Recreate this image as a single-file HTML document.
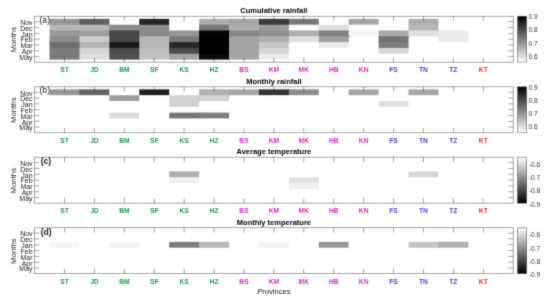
<!DOCTYPE html><html><head><meta charset="utf-8"><style>html,body{margin:0;padding:0;background:#fff;width:550px;height:300px;overflow:hidden}svg{display:block}text{font-family:"Liberation Sans",sans-serif}</style></head><body>
<svg width="550" height="300" viewBox="0 0 550 300">
<defs><linearGradient id="gd" x1="0" y1="0" x2="0" y2="1"><stop offset="0" stop-color="#000"/><stop offset="1" stop-color="#fff"/></linearGradient><linearGradient id="gl" x1="0" y1="0" x2="0" y2="1"><stop offset="0" stop-color="#fff"/><stop offset="1" stop-color="#000"/></linearGradient><filter id="soft" x="0" y="0" width="550" height="300" filterUnits="userSpaceOnUse" color-interpolation-filters="sRGB"><feConvolveMatrix order="3" kernelMatrix="0.0367 0.1915 0.0367 0.1915 1.0000 0.1915 0.0367 0.1915 0.0367" divisor="1.9127" edgeMode="duplicate" preserveAlpha="true"/></filter></defs><g filter="url(#soft)">
<rect width="550" height="300" fill="#fff"/>
<rect x="49.56" y="18.85" width="30.91" height="6.82" fill="rgb(150,150,150)"/>
<rect x="79.47" y="18.85" width="29.91" height="6.82" fill="rgb(95,95,95)"/>
<rect x="139.29" y="18.85" width="29.91" height="6.82" fill="rgb(35,35,35)"/>
<rect x="199.12" y="18.85" width="30.91" height="6.82" fill="rgb(175,175,175)"/>
<rect x="229.03" y="18.85" width="30.91" height="6.82" fill="rgb(165,165,165)"/>
<rect x="258.94" y="18.85" width="30.91" height="6.82" fill="rgb(60,60,60)"/>
<rect x="288.86" y="18.85" width="29.91" height="6.82" fill="rgb(120,120,120)"/>
<rect x="348.68" y="18.85" width="29.91" height="5.82" fill="rgb(165,165,165)"/>
<rect x="408.51" y="18.85" width="29.91" height="6.82" fill="rgb(175,175,175)"/>
<rect x="49.56" y="24.67" width="30.91" height="6.82" fill="rgb(182,182,182)"/>
<rect x="79.47" y="24.67" width="30.91" height="6.82" fill="rgb(183,183,183)"/>
<rect x="109.38" y="24.67" width="30.91" height="6.82" fill="rgb(140,140,140)"/>
<rect x="139.29" y="24.67" width="29.91" height="6.82" fill="rgb(140,140,140)"/>
<rect x="199.12" y="24.67" width="30.91" height="6.82" fill="rgb(120,120,120)"/>
<rect x="229.03" y="24.67" width="30.91" height="6.82" fill="rgb(175,175,175)"/>
<rect x="258.94" y="24.67" width="30.91" height="6.82" fill="rgb(155,155,155)"/>
<rect x="288.86" y="24.67" width="30.91" height="6.82" fill="rgb(250,250,250)"/>
<rect x="318.77" y="24.67" width="29.91" height="6.82" fill="rgb(225,225,225)"/>
<rect x="408.51" y="24.67" width="29.91" height="6.82" fill="rgb(185,185,185)"/>
<rect x="49.56" y="30.49" width="30.91" height="6.82" fill="rgb(152,152,152)"/>
<rect x="79.47" y="30.49" width="30.91" height="6.82" fill="rgb(158,158,158)"/>
<rect x="109.38" y="30.49" width="30.91" height="6.82" fill="rgb(70,70,70)"/>
<rect x="139.29" y="30.49" width="30.91" height="6.82" fill="rgb(140,140,140)"/>
<rect x="169.21" y="30.49" width="30.91" height="6.82" fill="rgb(150,150,150)"/>
<rect x="199.12" y="30.49" width="30.91" height="6.82" fill="rgb(5,5,5)"/>
<rect x="229.03" y="30.49" width="30.91" height="6.82" fill="rgb(135,135,135)"/>
<rect x="258.94" y="30.49" width="30.91" height="6.82" fill="rgb(145,145,145)"/>
<rect x="288.86" y="30.49" width="30.91" height="6.82" fill="rgb(175,175,175)"/>
<rect x="318.77" y="30.49" width="30.91" height="6.82" fill="rgb(130,130,130)"/>
<rect x="348.68" y="30.49" width="30.91" height="5.82" fill="rgb(245,245,245)"/>
<rect x="378.59" y="30.49" width="30.91" height="6.82" fill="rgb(170,170,170)"/>
<rect x="408.51" y="30.49" width="30.91" height="5.82" fill="rgb(225,225,225)"/>
<rect x="438.42" y="30.49" width="29.91" height="6.82" fill="rgb(235,235,235)"/>
<rect x="49.56" y="36.31" width="30.91" height="6.82" fill="rgb(140,140,140)"/>
<rect x="79.47" y="36.31" width="30.91" height="6.82" fill="rgb(203,203,203)"/>
<rect x="109.38" y="36.31" width="30.91" height="6.82" fill="rgb(70,70,70)"/>
<rect x="139.29" y="36.31" width="30.91" height="6.82" fill="rgb(185,185,185)"/>
<rect x="169.21" y="36.31" width="30.91" height="6.82" fill="rgb(120,120,120)"/>
<rect x="199.12" y="36.31" width="30.91" height="6.82" fill="rgb(0,0,0)"/>
<rect x="229.03" y="36.31" width="30.91" height="6.82" fill="rgb(165,165,165)"/>
<rect x="258.94" y="36.31" width="30.91" height="6.82" fill="rgb(175,175,175)"/>
<rect x="288.86" y="36.31" width="30.91" height="5.82" fill="rgb(225,225,225)"/>
<rect x="318.77" y="36.31" width="29.91" height="6.82" fill="rgb(160,160,160)"/>
<rect x="378.59" y="36.31" width="29.91" height="6.82" fill="rgb(115,115,115)"/>
<rect x="438.42" y="36.31" width="29.91" height="5.82" fill="rgb(235,235,235)"/>
<rect x="49.56" y="42.13" width="30.91" height="6.82" fill="rgb(110,110,110)"/>
<rect x="79.47" y="42.13" width="30.91" height="6.82" fill="rgb(180,180,180)"/>
<rect x="109.38" y="42.13" width="30.91" height="6.82" fill="rgb(25,25,25)"/>
<rect x="139.29" y="42.13" width="30.91" height="6.82" fill="rgb(185,185,185)"/>
<rect x="169.21" y="42.13" width="30.91" height="6.82" fill="rgb(40,40,40)"/>
<rect x="199.12" y="42.13" width="30.91" height="6.82" fill="rgb(0,0,0)"/>
<rect x="229.03" y="42.13" width="30.91" height="6.82" fill="rgb(165,165,165)"/>
<rect x="258.94" y="42.13" width="29.91" height="6.82" fill="rgb(200,200,200)"/>
<rect x="318.77" y="42.13" width="29.91" height="5.82" fill="rgb(235,235,235)"/>
<rect x="378.59" y="42.13" width="29.91" height="6.82" fill="rgb(125,125,125)"/>
<rect x="49.56" y="47.95" width="30.91" height="6.82" fill="rgb(125,125,125)"/>
<rect x="79.47" y="47.95" width="30.91" height="6.82" fill="rgb(213,213,213)"/>
<rect x="109.38" y="47.95" width="30.91" height="6.82" fill="rgb(75,75,75)"/>
<rect x="139.29" y="47.95" width="30.91" height="6.82" fill="rgb(190,190,190)"/>
<rect x="169.21" y="47.95" width="30.91" height="6.82" fill="rgb(75,75,75)"/>
<rect x="199.12" y="47.95" width="30.91" height="6.82" fill="rgb(0,0,0)"/>
<rect x="229.03" y="47.95" width="30.91" height="6.82" fill="rgb(165,165,165)"/>
<rect x="258.94" y="47.95" width="29.91" height="6.82" fill="rgb(215,215,215)"/>
<rect x="378.59" y="47.95" width="29.91" height="5.82" fill="rgb(215,215,215)"/>
<rect x="49.56" y="53.77" width="30.91" height="5.82" fill="rgb(123,123,123)"/>
<rect x="79.47" y="53.77" width="30.91" height="5.82" fill="rgb(222,222,222)"/>
<rect x="109.38" y="53.77" width="30.91" height="5.82" fill="rgb(80,80,80)"/>
<rect x="139.29" y="53.77" width="30.91" height="5.82" fill="rgb(195,195,195)"/>
<rect x="169.21" y="53.77" width="30.91" height="5.82" fill="rgb(165,165,165)"/>
<rect x="199.12" y="53.77" width="30.91" height="5.82" fill="rgb(10,10,10)"/>
<rect x="229.03" y="53.77" width="30.91" height="5.82" fill="rgb(165,165,165)"/>
<rect x="258.94" y="53.77" width="29.91" height="5.82" fill="rgb(235,235,235)"/>
<rect x="34.60" y="16.30" width="478.60" height="45.90" fill="none" stroke="#262626" stroke-opacity="0.5" stroke-width="0.8"/>
<line x1="64.51" y1="16.30" x2="64.51" y2="21.10" stroke="#262626" stroke-opacity="0.5" stroke-width="0.8"/>
<line x1="64.51" y1="62.20" x2="64.51" y2="57.40" stroke="#262626" stroke-opacity="0.5" stroke-width="0.8"/>
<line x1="94.43" y1="16.30" x2="94.43" y2="21.10" stroke="#262626" stroke-opacity="0.5" stroke-width="0.8"/>
<line x1="94.43" y1="62.20" x2="94.43" y2="57.40" stroke="#262626" stroke-opacity="0.5" stroke-width="0.8"/>
<line x1="124.34" y1="16.30" x2="124.34" y2="21.10" stroke="#262626" stroke-opacity="0.5" stroke-width="0.8"/>
<line x1="124.34" y1="62.20" x2="124.34" y2="57.40" stroke="#262626" stroke-opacity="0.5" stroke-width="0.8"/>
<line x1="154.25" y1="16.30" x2="154.25" y2="21.10" stroke="#262626" stroke-opacity="0.5" stroke-width="0.8"/>
<line x1="154.25" y1="62.20" x2="154.25" y2="57.40" stroke="#262626" stroke-opacity="0.5" stroke-width="0.8"/>
<line x1="184.16" y1="16.30" x2="184.16" y2="21.10" stroke="#262626" stroke-opacity="0.5" stroke-width="0.8"/>
<line x1="184.16" y1="62.20" x2="184.16" y2="57.40" stroke="#262626" stroke-opacity="0.5" stroke-width="0.8"/>
<line x1="214.08" y1="16.30" x2="214.08" y2="21.10" stroke="#262626" stroke-opacity="0.5" stroke-width="0.8"/>
<line x1="214.08" y1="62.20" x2="214.08" y2="57.40" stroke="#262626" stroke-opacity="0.5" stroke-width="0.8"/>
<line x1="243.99" y1="16.30" x2="243.99" y2="21.10" stroke="#262626" stroke-opacity="0.5" stroke-width="0.8"/>
<line x1="243.99" y1="62.20" x2="243.99" y2="57.40" stroke="#262626" stroke-opacity="0.5" stroke-width="0.8"/>
<line x1="273.90" y1="16.30" x2="273.90" y2="21.10" stroke="#262626" stroke-opacity="0.5" stroke-width="0.8"/>
<line x1="273.90" y1="62.20" x2="273.90" y2="57.40" stroke="#262626" stroke-opacity="0.5" stroke-width="0.8"/>
<line x1="303.81" y1="16.30" x2="303.81" y2="21.10" stroke="#262626" stroke-opacity="0.5" stroke-width="0.8"/>
<line x1="303.81" y1="62.20" x2="303.81" y2="57.40" stroke="#262626" stroke-opacity="0.5" stroke-width="0.8"/>
<line x1="333.73" y1="16.30" x2="333.73" y2="21.10" stroke="#262626" stroke-opacity="0.5" stroke-width="0.8"/>
<line x1="333.73" y1="62.20" x2="333.73" y2="57.40" stroke="#262626" stroke-opacity="0.5" stroke-width="0.8"/>
<line x1="363.64" y1="16.30" x2="363.64" y2="21.10" stroke="#262626" stroke-opacity="0.5" stroke-width="0.8"/>
<line x1="363.64" y1="62.20" x2="363.64" y2="57.40" stroke="#262626" stroke-opacity="0.5" stroke-width="0.8"/>
<line x1="393.55" y1="16.30" x2="393.55" y2="21.10" stroke="#262626" stroke-opacity="0.5" stroke-width="0.8"/>
<line x1="393.55" y1="62.20" x2="393.55" y2="57.40" stroke="#262626" stroke-opacity="0.5" stroke-width="0.8"/>
<line x1="423.46" y1="16.30" x2="423.46" y2="21.10" stroke="#262626" stroke-opacity="0.5" stroke-width="0.8"/>
<line x1="423.46" y1="62.20" x2="423.46" y2="57.40" stroke="#262626" stroke-opacity="0.5" stroke-width="0.8"/>
<line x1="453.38" y1="16.30" x2="453.38" y2="21.10" stroke="#262626" stroke-opacity="0.5" stroke-width="0.8"/>
<line x1="453.38" y1="62.20" x2="453.38" y2="57.40" stroke="#262626" stroke-opacity="0.5" stroke-width="0.8"/>
<line x1="483.29" y1="16.30" x2="483.29" y2="21.10" stroke="#262626" stroke-opacity="0.5" stroke-width="0.8"/>
<line x1="483.29" y1="62.20" x2="483.29" y2="57.40" stroke="#262626" stroke-opacity="0.5" stroke-width="0.8"/>
<line x1="34.60" y1="21.76" x2="39.40" y2="21.76" stroke="#262626" stroke-opacity="0.5" stroke-width="0.8"/>
<line x1="513.20" y1="21.76" x2="508.40" y2="21.76" stroke="#262626" stroke-opacity="0.5" stroke-width="0.8"/>
<text x="32.6" y="25.01" font-size="7" fill="#1e1e1e" text-anchor="end">Nov</text>
<line x1="34.60" y1="27.58" x2="39.40" y2="27.58" stroke="#262626" stroke-opacity="0.5" stroke-width="0.8"/>
<line x1="513.20" y1="27.58" x2="508.40" y2="27.58" stroke="#262626" stroke-opacity="0.5" stroke-width="0.8"/>
<text x="32.6" y="30.83" font-size="7" fill="#1e1e1e" text-anchor="end">Dec</text>
<line x1="34.60" y1="33.40" x2="39.40" y2="33.40" stroke="#262626" stroke-opacity="0.5" stroke-width="0.8"/>
<line x1="513.20" y1="33.40" x2="508.40" y2="33.40" stroke="#262626" stroke-opacity="0.5" stroke-width="0.8"/>
<text x="32.6" y="36.65" font-size="7" fill="#1e1e1e" text-anchor="end">Jan</text>
<line x1="34.60" y1="39.22" x2="39.40" y2="39.22" stroke="#262626" stroke-opacity="0.5" stroke-width="0.8"/>
<line x1="513.20" y1="39.22" x2="508.40" y2="39.22" stroke="#262626" stroke-opacity="0.5" stroke-width="0.8"/>
<text x="32.6" y="42.47" font-size="7" fill="#1e1e1e" text-anchor="end">Feb</text>
<line x1="34.60" y1="45.04" x2="39.40" y2="45.04" stroke="#262626" stroke-opacity="0.5" stroke-width="0.8"/>
<line x1="513.20" y1="45.04" x2="508.40" y2="45.04" stroke="#262626" stroke-opacity="0.5" stroke-width="0.8"/>
<text x="32.6" y="48.29" font-size="7" fill="#1e1e1e" text-anchor="end">Mar</text>
<line x1="34.60" y1="50.86" x2="39.40" y2="50.86" stroke="#262626" stroke-opacity="0.5" stroke-width="0.8"/>
<line x1="513.20" y1="50.86" x2="508.40" y2="50.86" stroke="#262626" stroke-opacity="0.5" stroke-width="0.8"/>
<text x="32.6" y="54.11" font-size="7" fill="#1e1e1e" text-anchor="end">Apr</text>
<line x1="34.60" y1="56.68" x2="39.40" y2="56.68" stroke="#262626" stroke-opacity="0.5" stroke-width="0.8"/>
<line x1="513.20" y1="56.68" x2="508.40" y2="56.68" stroke="#262626" stroke-opacity="0.5" stroke-width="0.8"/>
<text x="32.6" y="59.93" font-size="7" fill="#1e1e1e" text-anchor="end">May</text>
<text x="64.51" y="72.10" font-size="6.7" font-weight="bold" fill="#1f9a4e" text-anchor="middle">ST</text>
<text x="94.43" y="72.10" font-size="6.7" font-weight="bold" fill="#1f9a4e" text-anchor="middle">JD</text>
<text x="124.34" y="72.10" font-size="6.7" font-weight="bold" fill="#1f9a4e" text-anchor="middle">BM</text>
<text x="154.25" y="72.10" font-size="6.7" font-weight="bold" fill="#1f9a4e" text-anchor="middle">SF</text>
<text x="184.16" y="72.10" font-size="6.7" font-weight="bold" fill="#1f9a4e" text-anchor="middle">KS</text>
<text x="214.08" y="72.10" font-size="6.7" font-weight="bold" fill="#1f9a4e" text-anchor="middle">HZ</text>
<text x="243.99" y="72.10" font-size="6.7" font-weight="bold" fill="#d52fc4" text-anchor="middle">BS</text>
<text x="273.90" y="72.10" font-size="6.7" font-weight="bold" fill="#d52fc4" text-anchor="middle">KM</text>
<text x="303.81" y="72.10" font-size="6.7" font-weight="bold" fill="#d52fc4" text-anchor="middle">MK</text>
<text x="333.73" y="72.10" font-size="6.7" font-weight="bold" fill="#d52fc4" text-anchor="middle">HB</text>
<text x="363.64" y="72.10" font-size="6.7" font-weight="bold" fill="#d52fc4" text-anchor="middle">KN</text>
<text x="393.55" y="72.10" font-size="6.7" font-weight="bold" fill="#4b3fe2" text-anchor="middle">FS</text>
<text x="423.46" y="72.10" font-size="6.7" font-weight="bold" fill="#4b3fe2" text-anchor="middle">TN</text>
<text x="453.38" y="72.10" font-size="6.7" font-weight="bold" fill="#4b3fe2" text-anchor="middle">TZ</text>
<text x="483.29" y="72.10" font-size="6.7" font-weight="bold" fill="#ec2f2f" text-anchor="middle">KT</text>
<text x="273.90" y="13.40" font-size="7.5" font-weight="bold" fill="#000" text-anchor="middle">Cumulative rainfall</text>
<text x="39.5" y="22.80" font-size="8.6" fill="#222">(a)</text>
<text x="0" y="0" font-size="7.8" fill="#262626" text-anchor="middle" transform="translate(15.9 39.75) rotate(-90)">Months</text>
<rect x="517.6" y="16.30" width="9.0" height="45.90" fill="url(#gd)" stroke="#262626" stroke-opacity="0.5" stroke-width="0.8"/>
<text x="528.6" y="19.20" font-size="6.6" fill="#333">0.9</text>
<text x="528.6" y="32.40" font-size="6.6" fill="#333">0.8</text>
<text x="528.6" y="45.60" font-size="6.6" fill="#333">0.7</text>
<text x="528.6" y="58.80" font-size="6.6" fill="#333">0.6</text>
<rect x="49.56" y="89.35" width="30.91" height="5.82" fill="rgb(150,150,150)"/>
<rect x="79.47" y="89.35" width="29.91" height="5.82" fill="rgb(100,100,100)"/>
<rect x="139.29" y="89.35" width="29.91" height="5.82" fill="rgb(30,30,30)"/>
<rect x="199.12" y="89.35" width="30.91" height="6.82" fill="rgb(175,175,175)"/>
<rect x="229.03" y="89.35" width="30.91" height="5.82" fill="rgb(165,165,165)"/>
<rect x="258.94" y="89.35" width="30.91" height="5.82" fill="rgb(52,52,52)"/>
<rect x="288.86" y="89.35" width="29.91" height="5.82" fill="rgb(140,140,140)"/>
<rect x="348.68" y="89.35" width="29.91" height="5.82" fill="rgb(165,165,165)"/>
<rect x="408.51" y="89.35" width="29.91" height="5.82" fill="rgb(165,165,165)"/>
<rect x="109.38" y="95.17" width="29.91" height="5.82" fill="rgb(160,160,160)"/>
<rect x="169.21" y="95.17" width="30.91" height="6.82" fill="rgb(210,210,210)"/>
<rect x="199.12" y="95.17" width="29.91" height="5.82" fill="rgb(210,210,210)"/>
<rect x="169.21" y="100.99" width="29.91" height="5.82" fill="rgb(210,210,210)"/>
<rect x="378.59" y="100.99" width="29.91" height="5.82" fill="rgb(225,225,225)"/>
<rect x="109.38" y="112.63" width="29.91" height="5.82" fill="rgb(220,220,220)"/>
<rect x="169.21" y="112.63" width="30.91" height="5.82" fill="rgb(120,120,120)"/>
<rect x="199.12" y="112.63" width="29.91" height="5.82" fill="rgb(125,125,125)"/>
<rect x="34.60" y="86.80" width="478.60" height="45.90" fill="none" stroke="#262626" stroke-opacity="0.5" stroke-width="0.8"/>
<line x1="64.51" y1="86.80" x2="64.51" y2="91.60" stroke="#262626" stroke-opacity="0.5" stroke-width="0.8"/>
<line x1="64.51" y1="132.70" x2="64.51" y2="127.90" stroke="#262626" stroke-opacity="0.5" stroke-width="0.8"/>
<line x1="94.43" y1="86.80" x2="94.43" y2="91.60" stroke="#262626" stroke-opacity="0.5" stroke-width="0.8"/>
<line x1="94.43" y1="132.70" x2="94.43" y2="127.90" stroke="#262626" stroke-opacity="0.5" stroke-width="0.8"/>
<line x1="124.34" y1="86.80" x2="124.34" y2="91.60" stroke="#262626" stroke-opacity="0.5" stroke-width="0.8"/>
<line x1="124.34" y1="132.70" x2="124.34" y2="127.90" stroke="#262626" stroke-opacity="0.5" stroke-width="0.8"/>
<line x1="154.25" y1="86.80" x2="154.25" y2="91.60" stroke="#262626" stroke-opacity="0.5" stroke-width="0.8"/>
<line x1="154.25" y1="132.70" x2="154.25" y2="127.90" stroke="#262626" stroke-opacity="0.5" stroke-width="0.8"/>
<line x1="184.16" y1="86.80" x2="184.16" y2="91.60" stroke="#262626" stroke-opacity="0.5" stroke-width="0.8"/>
<line x1="184.16" y1="132.70" x2="184.16" y2="127.90" stroke="#262626" stroke-opacity="0.5" stroke-width="0.8"/>
<line x1="214.08" y1="86.80" x2="214.08" y2="91.60" stroke="#262626" stroke-opacity="0.5" stroke-width="0.8"/>
<line x1="214.08" y1="132.70" x2="214.08" y2="127.90" stroke="#262626" stroke-opacity="0.5" stroke-width="0.8"/>
<line x1="243.99" y1="86.80" x2="243.99" y2="91.60" stroke="#262626" stroke-opacity="0.5" stroke-width="0.8"/>
<line x1="243.99" y1="132.70" x2="243.99" y2="127.90" stroke="#262626" stroke-opacity="0.5" stroke-width="0.8"/>
<line x1="273.90" y1="86.80" x2="273.90" y2="91.60" stroke="#262626" stroke-opacity="0.5" stroke-width="0.8"/>
<line x1="273.90" y1="132.70" x2="273.90" y2="127.90" stroke="#262626" stroke-opacity="0.5" stroke-width="0.8"/>
<line x1="303.81" y1="86.80" x2="303.81" y2="91.60" stroke="#262626" stroke-opacity="0.5" stroke-width="0.8"/>
<line x1="303.81" y1="132.70" x2="303.81" y2="127.90" stroke="#262626" stroke-opacity="0.5" stroke-width="0.8"/>
<line x1="333.73" y1="86.80" x2="333.73" y2="91.60" stroke="#262626" stroke-opacity="0.5" stroke-width="0.8"/>
<line x1="333.73" y1="132.70" x2="333.73" y2="127.90" stroke="#262626" stroke-opacity="0.5" stroke-width="0.8"/>
<line x1="363.64" y1="86.80" x2="363.64" y2="91.60" stroke="#262626" stroke-opacity="0.5" stroke-width="0.8"/>
<line x1="363.64" y1="132.70" x2="363.64" y2="127.90" stroke="#262626" stroke-opacity="0.5" stroke-width="0.8"/>
<line x1="393.55" y1="86.80" x2="393.55" y2="91.60" stroke="#262626" stroke-opacity="0.5" stroke-width="0.8"/>
<line x1="393.55" y1="132.70" x2="393.55" y2="127.90" stroke="#262626" stroke-opacity="0.5" stroke-width="0.8"/>
<line x1="423.46" y1="86.80" x2="423.46" y2="91.60" stroke="#262626" stroke-opacity="0.5" stroke-width="0.8"/>
<line x1="423.46" y1="132.70" x2="423.46" y2="127.90" stroke="#262626" stroke-opacity="0.5" stroke-width="0.8"/>
<line x1="453.38" y1="86.80" x2="453.38" y2="91.60" stroke="#262626" stroke-opacity="0.5" stroke-width="0.8"/>
<line x1="453.38" y1="132.70" x2="453.38" y2="127.90" stroke="#262626" stroke-opacity="0.5" stroke-width="0.8"/>
<line x1="483.29" y1="86.80" x2="483.29" y2="91.60" stroke="#262626" stroke-opacity="0.5" stroke-width="0.8"/>
<line x1="483.29" y1="132.70" x2="483.29" y2="127.90" stroke="#262626" stroke-opacity="0.5" stroke-width="0.8"/>
<line x1="34.60" y1="92.26" x2="39.40" y2="92.26" stroke="#262626" stroke-opacity="0.5" stroke-width="0.8"/>
<line x1="513.20" y1="92.26" x2="508.40" y2="92.26" stroke="#262626" stroke-opacity="0.5" stroke-width="0.8"/>
<text x="32.6" y="95.51" font-size="7" fill="#1e1e1e" text-anchor="end">Nov</text>
<line x1="34.60" y1="98.08" x2="39.40" y2="98.08" stroke="#262626" stroke-opacity="0.5" stroke-width="0.8"/>
<line x1="513.20" y1="98.08" x2="508.40" y2="98.08" stroke="#262626" stroke-opacity="0.5" stroke-width="0.8"/>
<text x="32.6" y="101.33" font-size="7" fill="#1e1e1e" text-anchor="end">Dec</text>
<line x1="34.60" y1="103.90" x2="39.40" y2="103.90" stroke="#262626" stroke-opacity="0.5" stroke-width="0.8"/>
<line x1="513.20" y1="103.90" x2="508.40" y2="103.90" stroke="#262626" stroke-opacity="0.5" stroke-width="0.8"/>
<text x="32.6" y="107.15" font-size="7" fill="#1e1e1e" text-anchor="end">Jan</text>
<line x1="34.60" y1="109.72" x2="39.40" y2="109.72" stroke="#262626" stroke-opacity="0.5" stroke-width="0.8"/>
<line x1="513.20" y1="109.72" x2="508.40" y2="109.72" stroke="#262626" stroke-opacity="0.5" stroke-width="0.8"/>
<text x="32.6" y="112.97" font-size="7" fill="#1e1e1e" text-anchor="end">Feb</text>
<line x1="34.60" y1="115.54" x2="39.40" y2="115.54" stroke="#262626" stroke-opacity="0.5" stroke-width="0.8"/>
<line x1="513.20" y1="115.54" x2="508.40" y2="115.54" stroke="#262626" stroke-opacity="0.5" stroke-width="0.8"/>
<text x="32.6" y="118.79" font-size="7" fill="#1e1e1e" text-anchor="end">Mar</text>
<line x1="34.60" y1="121.36" x2="39.40" y2="121.36" stroke="#262626" stroke-opacity="0.5" stroke-width="0.8"/>
<line x1="513.20" y1="121.36" x2="508.40" y2="121.36" stroke="#262626" stroke-opacity="0.5" stroke-width="0.8"/>
<text x="32.6" y="124.61" font-size="7" fill="#1e1e1e" text-anchor="end">Apr</text>
<line x1="34.60" y1="127.18" x2="39.40" y2="127.18" stroke="#262626" stroke-opacity="0.5" stroke-width="0.8"/>
<line x1="513.20" y1="127.18" x2="508.40" y2="127.18" stroke="#262626" stroke-opacity="0.5" stroke-width="0.8"/>
<text x="32.6" y="130.43" font-size="7" fill="#1e1e1e" text-anchor="end">May</text>
<text x="64.51" y="142.60" font-size="6.7" font-weight="bold" fill="#1f9a4e" text-anchor="middle">ST</text>
<text x="94.43" y="142.60" font-size="6.7" font-weight="bold" fill="#1f9a4e" text-anchor="middle">JD</text>
<text x="124.34" y="142.60" font-size="6.7" font-weight="bold" fill="#1f9a4e" text-anchor="middle">BM</text>
<text x="154.25" y="142.60" font-size="6.7" font-weight="bold" fill="#1f9a4e" text-anchor="middle">SF</text>
<text x="184.16" y="142.60" font-size="6.7" font-weight="bold" fill="#1f9a4e" text-anchor="middle">KS</text>
<text x="214.08" y="142.60" font-size="6.7" font-weight="bold" fill="#1f9a4e" text-anchor="middle">HZ</text>
<text x="243.99" y="142.60" font-size="6.7" font-weight="bold" fill="#d52fc4" text-anchor="middle">BS</text>
<text x="273.90" y="142.60" font-size="6.7" font-weight="bold" fill="#d52fc4" text-anchor="middle">KM</text>
<text x="303.81" y="142.60" font-size="6.7" font-weight="bold" fill="#d52fc4" text-anchor="middle">MK</text>
<text x="333.73" y="142.60" font-size="6.7" font-weight="bold" fill="#d52fc4" text-anchor="middle">HB</text>
<text x="363.64" y="142.60" font-size="6.7" font-weight="bold" fill="#d52fc4" text-anchor="middle">KN</text>
<text x="393.55" y="142.60" font-size="6.7" font-weight="bold" fill="#4b3fe2" text-anchor="middle">FS</text>
<text x="423.46" y="142.60" font-size="6.7" font-weight="bold" fill="#4b3fe2" text-anchor="middle">TN</text>
<text x="453.38" y="142.60" font-size="6.7" font-weight="bold" fill="#4b3fe2" text-anchor="middle">TZ</text>
<text x="483.29" y="142.60" font-size="6.7" font-weight="bold" fill="#ec2f2f" text-anchor="middle">KT</text>
<text x="273.90" y="83.90" font-size="7.5" font-weight="bold" fill="#000" text-anchor="middle">Monthly rainfall</text>
<text x="39.5" y="93.30" font-size="8.6" fill="#222">(b)</text>
<text x="0" y="0" font-size="7.8" fill="#262626" text-anchor="middle" transform="translate(15.9 110.25) rotate(-90)">Months</text>
<rect x="517.6" y="86.80" width="9.0" height="45.90" fill="url(#gd)" stroke="#262626" stroke-opacity="0.5" stroke-width="0.8"/>
<text x="528.6" y="89.70" font-size="6.6" fill="#333">0.9</text>
<text x="528.6" y="102.90" font-size="6.6" fill="#333">0.8</text>
<text x="528.6" y="116.10" font-size="6.6" fill="#333">0.7</text>
<text x="528.6" y="129.30" font-size="6.6" fill="#333">0.6</text>
<rect x="169.21" y="171.44" width="29.91" height="6.82" fill="rgb(175,175,175)"/>
<rect x="408.51" y="171.44" width="29.91" height="5.82" fill="rgb(215,215,215)"/>
<rect x="169.21" y="177.26" width="29.91" height="5.82" fill="rgb(240,240,240)"/>
<rect x="288.86" y="177.26" width="29.91" height="6.82" fill="rgb(225,225,225)"/>
<rect x="288.86" y="183.08" width="29.91" height="5.82" fill="rgb(240,240,240)"/>
<rect x="34.60" y="157.25" width="478.60" height="45.90" fill="none" stroke="#262626" stroke-opacity="0.5" stroke-width="0.8"/>
<line x1="64.51" y1="157.25" x2="64.51" y2="162.05" stroke="#262626" stroke-opacity="0.5" stroke-width="0.8"/>
<line x1="64.51" y1="203.15" x2="64.51" y2="198.35" stroke="#262626" stroke-opacity="0.5" stroke-width="0.8"/>
<line x1="94.43" y1="157.25" x2="94.43" y2="162.05" stroke="#262626" stroke-opacity="0.5" stroke-width="0.8"/>
<line x1="94.43" y1="203.15" x2="94.43" y2="198.35" stroke="#262626" stroke-opacity="0.5" stroke-width="0.8"/>
<line x1="124.34" y1="157.25" x2="124.34" y2="162.05" stroke="#262626" stroke-opacity="0.5" stroke-width="0.8"/>
<line x1="124.34" y1="203.15" x2="124.34" y2="198.35" stroke="#262626" stroke-opacity="0.5" stroke-width="0.8"/>
<line x1="154.25" y1="157.25" x2="154.25" y2="162.05" stroke="#262626" stroke-opacity="0.5" stroke-width="0.8"/>
<line x1="154.25" y1="203.15" x2="154.25" y2="198.35" stroke="#262626" stroke-opacity="0.5" stroke-width="0.8"/>
<line x1="184.16" y1="157.25" x2="184.16" y2="162.05" stroke="#262626" stroke-opacity="0.5" stroke-width="0.8"/>
<line x1="184.16" y1="203.15" x2="184.16" y2="198.35" stroke="#262626" stroke-opacity="0.5" stroke-width="0.8"/>
<line x1="214.08" y1="157.25" x2="214.08" y2="162.05" stroke="#262626" stroke-opacity="0.5" stroke-width="0.8"/>
<line x1="214.08" y1="203.15" x2="214.08" y2="198.35" stroke="#262626" stroke-opacity="0.5" stroke-width="0.8"/>
<line x1="243.99" y1="157.25" x2="243.99" y2="162.05" stroke="#262626" stroke-opacity="0.5" stroke-width="0.8"/>
<line x1="243.99" y1="203.15" x2="243.99" y2="198.35" stroke="#262626" stroke-opacity="0.5" stroke-width="0.8"/>
<line x1="273.90" y1="157.25" x2="273.90" y2="162.05" stroke="#262626" stroke-opacity="0.5" stroke-width="0.8"/>
<line x1="273.90" y1="203.15" x2="273.90" y2="198.35" stroke="#262626" stroke-opacity="0.5" stroke-width="0.8"/>
<line x1="303.81" y1="157.25" x2="303.81" y2="162.05" stroke="#262626" stroke-opacity="0.5" stroke-width="0.8"/>
<line x1="303.81" y1="203.15" x2="303.81" y2="198.35" stroke="#262626" stroke-opacity="0.5" stroke-width="0.8"/>
<line x1="333.73" y1="157.25" x2="333.73" y2="162.05" stroke="#262626" stroke-opacity="0.5" stroke-width="0.8"/>
<line x1="333.73" y1="203.15" x2="333.73" y2="198.35" stroke="#262626" stroke-opacity="0.5" stroke-width="0.8"/>
<line x1="363.64" y1="157.25" x2="363.64" y2="162.05" stroke="#262626" stroke-opacity="0.5" stroke-width="0.8"/>
<line x1="363.64" y1="203.15" x2="363.64" y2="198.35" stroke="#262626" stroke-opacity="0.5" stroke-width="0.8"/>
<line x1="393.55" y1="157.25" x2="393.55" y2="162.05" stroke="#262626" stroke-opacity="0.5" stroke-width="0.8"/>
<line x1="393.55" y1="203.15" x2="393.55" y2="198.35" stroke="#262626" stroke-opacity="0.5" stroke-width="0.8"/>
<line x1="423.46" y1="157.25" x2="423.46" y2="162.05" stroke="#262626" stroke-opacity="0.5" stroke-width="0.8"/>
<line x1="423.46" y1="203.15" x2="423.46" y2="198.35" stroke="#262626" stroke-opacity="0.5" stroke-width="0.8"/>
<line x1="453.38" y1="157.25" x2="453.38" y2="162.05" stroke="#262626" stroke-opacity="0.5" stroke-width="0.8"/>
<line x1="453.38" y1="203.15" x2="453.38" y2="198.35" stroke="#262626" stroke-opacity="0.5" stroke-width="0.8"/>
<line x1="483.29" y1="157.25" x2="483.29" y2="162.05" stroke="#262626" stroke-opacity="0.5" stroke-width="0.8"/>
<line x1="483.29" y1="203.15" x2="483.29" y2="198.35" stroke="#262626" stroke-opacity="0.5" stroke-width="0.8"/>
<line x1="34.60" y1="162.71" x2="39.40" y2="162.71" stroke="#262626" stroke-opacity="0.5" stroke-width="0.8"/>
<line x1="513.20" y1="162.71" x2="508.40" y2="162.71" stroke="#262626" stroke-opacity="0.5" stroke-width="0.8"/>
<text x="32.6" y="165.96" font-size="7" fill="#1e1e1e" text-anchor="end">Nov</text>
<line x1="34.60" y1="168.53" x2="39.40" y2="168.53" stroke="#262626" stroke-opacity="0.5" stroke-width="0.8"/>
<line x1="513.20" y1="168.53" x2="508.40" y2="168.53" stroke="#262626" stroke-opacity="0.5" stroke-width="0.8"/>
<text x="32.6" y="171.78" font-size="7" fill="#1e1e1e" text-anchor="end">Dec</text>
<line x1="34.60" y1="174.35" x2="39.40" y2="174.35" stroke="#262626" stroke-opacity="0.5" stroke-width="0.8"/>
<line x1="513.20" y1="174.35" x2="508.40" y2="174.35" stroke="#262626" stroke-opacity="0.5" stroke-width="0.8"/>
<text x="32.6" y="177.60" font-size="7" fill="#1e1e1e" text-anchor="end">Jan</text>
<line x1="34.60" y1="180.17" x2="39.40" y2="180.17" stroke="#262626" stroke-opacity="0.5" stroke-width="0.8"/>
<line x1="513.20" y1="180.17" x2="508.40" y2="180.17" stroke="#262626" stroke-opacity="0.5" stroke-width="0.8"/>
<text x="32.6" y="183.42" font-size="7" fill="#1e1e1e" text-anchor="end">Feb</text>
<line x1="34.60" y1="185.99" x2="39.40" y2="185.99" stroke="#262626" stroke-opacity="0.5" stroke-width="0.8"/>
<line x1="513.20" y1="185.99" x2="508.40" y2="185.99" stroke="#262626" stroke-opacity="0.5" stroke-width="0.8"/>
<text x="32.6" y="189.24" font-size="7" fill="#1e1e1e" text-anchor="end">Mar</text>
<line x1="34.60" y1="191.81" x2="39.40" y2="191.81" stroke="#262626" stroke-opacity="0.5" stroke-width="0.8"/>
<line x1="513.20" y1="191.81" x2="508.40" y2="191.81" stroke="#262626" stroke-opacity="0.5" stroke-width="0.8"/>
<text x="32.6" y="195.06" font-size="7" fill="#1e1e1e" text-anchor="end">Apr</text>
<line x1="34.60" y1="197.63" x2="39.40" y2="197.63" stroke="#262626" stroke-opacity="0.5" stroke-width="0.8"/>
<line x1="513.20" y1="197.63" x2="508.40" y2="197.63" stroke="#262626" stroke-opacity="0.5" stroke-width="0.8"/>
<text x="32.6" y="200.88" font-size="7" fill="#1e1e1e" text-anchor="end">May</text>
<text x="64.51" y="213.05" font-size="6.7" font-weight="bold" fill="#1f9a4e" text-anchor="middle">ST</text>
<text x="94.43" y="213.05" font-size="6.7" font-weight="bold" fill="#1f9a4e" text-anchor="middle">JD</text>
<text x="124.34" y="213.05" font-size="6.7" font-weight="bold" fill="#1f9a4e" text-anchor="middle">BM</text>
<text x="154.25" y="213.05" font-size="6.7" font-weight="bold" fill="#1f9a4e" text-anchor="middle">SF</text>
<text x="184.16" y="213.05" font-size="6.7" font-weight="bold" fill="#1f9a4e" text-anchor="middle">KS</text>
<text x="214.08" y="213.05" font-size="6.7" font-weight="bold" fill="#1f9a4e" text-anchor="middle">HZ</text>
<text x="243.99" y="213.05" font-size="6.7" font-weight="bold" fill="#d52fc4" text-anchor="middle">BS</text>
<text x="273.90" y="213.05" font-size="6.7" font-weight="bold" fill="#d52fc4" text-anchor="middle">KM</text>
<text x="303.81" y="213.05" font-size="6.7" font-weight="bold" fill="#d52fc4" text-anchor="middle">MK</text>
<text x="333.73" y="213.05" font-size="6.7" font-weight="bold" fill="#d52fc4" text-anchor="middle">HB</text>
<text x="363.64" y="213.05" font-size="6.7" font-weight="bold" fill="#d52fc4" text-anchor="middle">KN</text>
<text x="393.55" y="213.05" font-size="6.7" font-weight="bold" fill="#4b3fe2" text-anchor="middle">FS</text>
<text x="423.46" y="213.05" font-size="6.7" font-weight="bold" fill="#4b3fe2" text-anchor="middle">TN</text>
<text x="453.38" y="213.05" font-size="6.7" font-weight="bold" fill="#4b3fe2" text-anchor="middle">TZ</text>
<text x="483.29" y="213.05" font-size="6.7" font-weight="bold" fill="#ec2f2f" text-anchor="middle">KT</text>
<text x="273.90" y="154.35" font-size="7.5" font-weight="bold" fill="#000" text-anchor="middle">Average temperature</text>
<text x="40.7" y="164.05" font-size="8.6" font-weight="bold" fill="#222">(c)</text>
<text x="0" y="0" font-size="7.8" fill="#262626" text-anchor="middle" transform="translate(15.9 180.70) rotate(-90)">Months</text>
<rect x="517.6" y="157.25" width="9.0" height="45.90" fill="url(#gl)" stroke="#262626" stroke-opacity="0.5" stroke-width="0.8"/>
<text x="528.9" y="166.85" font-size="6.6" fill="#333">-0.6</text>
<text x="528.9" y="180.25" font-size="6.6" fill="#333">-0.7</text>
<text x="528.9" y="193.45" font-size="6.6" fill="#333">-0.8</text>
<text x="528.9" y="206.55" font-size="6.6" fill="#333">-0.9</text>
<rect x="49.56" y="241.89" width="29.91" height="5.82" fill="rgb(245,245,245)"/>
<rect x="109.38" y="241.89" width="29.91" height="5.82" fill="rgb(245,245,245)"/>
<rect x="169.21" y="241.89" width="30.91" height="5.82" fill="rgb(125,125,125)"/>
<rect x="199.12" y="241.89" width="29.91" height="5.82" fill="rgb(185,185,185)"/>
<rect x="258.94" y="241.89" width="29.91" height="5.82" fill="rgb(245,245,245)"/>
<rect x="318.77" y="241.89" width="29.91" height="5.82" fill="rgb(150,150,150)"/>
<rect x="408.51" y="241.89" width="30.91" height="5.82" fill="rgb(195,195,195)"/>
<rect x="438.42" y="241.89" width="29.91" height="5.82" fill="rgb(175,175,175)"/>
<rect x="34.60" y="227.70" width="478.60" height="45.90" fill="none" stroke="#262626" stroke-opacity="0.5" stroke-width="0.8"/>
<line x1="64.51" y1="227.70" x2="64.51" y2="232.50" stroke="#262626" stroke-opacity="0.5" stroke-width="0.8"/>
<line x1="64.51" y1="273.60" x2="64.51" y2="268.80" stroke="#262626" stroke-opacity="0.5" stroke-width="0.8"/>
<line x1="94.43" y1="227.70" x2="94.43" y2="232.50" stroke="#262626" stroke-opacity="0.5" stroke-width="0.8"/>
<line x1="94.43" y1="273.60" x2="94.43" y2="268.80" stroke="#262626" stroke-opacity="0.5" stroke-width="0.8"/>
<line x1="124.34" y1="227.70" x2="124.34" y2="232.50" stroke="#262626" stroke-opacity="0.5" stroke-width="0.8"/>
<line x1="124.34" y1="273.60" x2="124.34" y2="268.80" stroke="#262626" stroke-opacity="0.5" stroke-width="0.8"/>
<line x1="154.25" y1="227.70" x2="154.25" y2="232.50" stroke="#262626" stroke-opacity="0.5" stroke-width="0.8"/>
<line x1="154.25" y1="273.60" x2="154.25" y2="268.80" stroke="#262626" stroke-opacity="0.5" stroke-width="0.8"/>
<line x1="184.16" y1="227.70" x2="184.16" y2="232.50" stroke="#262626" stroke-opacity="0.5" stroke-width="0.8"/>
<line x1="184.16" y1="273.60" x2="184.16" y2="268.80" stroke="#262626" stroke-opacity="0.5" stroke-width="0.8"/>
<line x1="214.08" y1="227.70" x2="214.08" y2="232.50" stroke="#262626" stroke-opacity="0.5" stroke-width="0.8"/>
<line x1="214.08" y1="273.60" x2="214.08" y2="268.80" stroke="#262626" stroke-opacity="0.5" stroke-width="0.8"/>
<line x1="243.99" y1="227.70" x2="243.99" y2="232.50" stroke="#262626" stroke-opacity="0.5" stroke-width="0.8"/>
<line x1="243.99" y1="273.60" x2="243.99" y2="268.80" stroke="#262626" stroke-opacity="0.5" stroke-width="0.8"/>
<line x1="273.90" y1="227.70" x2="273.90" y2="232.50" stroke="#262626" stroke-opacity="0.5" stroke-width="0.8"/>
<line x1="273.90" y1="273.60" x2="273.90" y2="268.80" stroke="#262626" stroke-opacity="0.5" stroke-width="0.8"/>
<line x1="303.81" y1="227.70" x2="303.81" y2="232.50" stroke="#262626" stroke-opacity="0.5" stroke-width="0.8"/>
<line x1="303.81" y1="273.60" x2="303.81" y2="268.80" stroke="#262626" stroke-opacity="0.5" stroke-width="0.8"/>
<line x1="333.73" y1="227.70" x2="333.73" y2="232.50" stroke="#262626" stroke-opacity="0.5" stroke-width="0.8"/>
<line x1="333.73" y1="273.60" x2="333.73" y2="268.80" stroke="#262626" stroke-opacity="0.5" stroke-width="0.8"/>
<line x1="363.64" y1="227.70" x2="363.64" y2="232.50" stroke="#262626" stroke-opacity="0.5" stroke-width="0.8"/>
<line x1="363.64" y1="273.60" x2="363.64" y2="268.80" stroke="#262626" stroke-opacity="0.5" stroke-width="0.8"/>
<line x1="393.55" y1="227.70" x2="393.55" y2="232.50" stroke="#262626" stroke-opacity="0.5" stroke-width="0.8"/>
<line x1="393.55" y1="273.60" x2="393.55" y2="268.80" stroke="#262626" stroke-opacity="0.5" stroke-width="0.8"/>
<line x1="423.46" y1="227.70" x2="423.46" y2="232.50" stroke="#262626" stroke-opacity="0.5" stroke-width="0.8"/>
<line x1="423.46" y1="273.60" x2="423.46" y2="268.80" stroke="#262626" stroke-opacity="0.5" stroke-width="0.8"/>
<line x1="453.38" y1="227.70" x2="453.38" y2="232.50" stroke="#262626" stroke-opacity="0.5" stroke-width="0.8"/>
<line x1="453.38" y1="273.60" x2="453.38" y2="268.80" stroke="#262626" stroke-opacity="0.5" stroke-width="0.8"/>
<line x1="483.29" y1="227.70" x2="483.29" y2="232.50" stroke="#262626" stroke-opacity="0.5" stroke-width="0.8"/>
<line x1="483.29" y1="273.60" x2="483.29" y2="268.80" stroke="#262626" stroke-opacity="0.5" stroke-width="0.8"/>
<line x1="34.60" y1="233.16" x2="39.40" y2="233.16" stroke="#262626" stroke-opacity="0.5" stroke-width="0.8"/>
<line x1="513.20" y1="233.16" x2="508.40" y2="233.16" stroke="#262626" stroke-opacity="0.5" stroke-width="0.8"/>
<text x="32.6" y="236.41" font-size="7" fill="#1e1e1e" text-anchor="end">Nov</text>
<line x1="34.60" y1="238.98" x2="39.40" y2="238.98" stroke="#262626" stroke-opacity="0.5" stroke-width="0.8"/>
<line x1="513.20" y1="238.98" x2="508.40" y2="238.98" stroke="#262626" stroke-opacity="0.5" stroke-width="0.8"/>
<text x="32.6" y="242.23" font-size="7" fill="#1e1e1e" text-anchor="end">Dec</text>
<line x1="34.60" y1="244.80" x2="39.40" y2="244.80" stroke="#262626" stroke-opacity="0.5" stroke-width="0.8"/>
<line x1="513.20" y1="244.80" x2="508.40" y2="244.80" stroke="#262626" stroke-opacity="0.5" stroke-width="0.8"/>
<text x="32.6" y="248.05" font-size="7" fill="#1e1e1e" text-anchor="end">Jan</text>
<line x1="34.60" y1="250.62" x2="39.40" y2="250.62" stroke="#262626" stroke-opacity="0.5" stroke-width="0.8"/>
<line x1="513.20" y1="250.62" x2="508.40" y2="250.62" stroke="#262626" stroke-opacity="0.5" stroke-width="0.8"/>
<text x="32.6" y="253.87" font-size="7" fill="#1e1e1e" text-anchor="end">Feb</text>
<line x1="34.60" y1="256.44" x2="39.40" y2="256.44" stroke="#262626" stroke-opacity="0.5" stroke-width="0.8"/>
<line x1="513.20" y1="256.44" x2="508.40" y2="256.44" stroke="#262626" stroke-opacity="0.5" stroke-width="0.8"/>
<text x="32.6" y="259.69" font-size="7" fill="#1e1e1e" text-anchor="end">Mar</text>
<line x1="34.60" y1="262.26" x2="39.40" y2="262.26" stroke="#262626" stroke-opacity="0.5" stroke-width="0.8"/>
<line x1="513.20" y1="262.26" x2="508.40" y2="262.26" stroke="#262626" stroke-opacity="0.5" stroke-width="0.8"/>
<text x="32.6" y="265.51" font-size="7" fill="#1e1e1e" text-anchor="end">Apr</text>
<line x1="34.60" y1="268.08" x2="39.40" y2="268.08" stroke="#262626" stroke-opacity="0.5" stroke-width="0.8"/>
<line x1="513.20" y1="268.08" x2="508.40" y2="268.08" stroke="#262626" stroke-opacity="0.5" stroke-width="0.8"/>
<text x="32.6" y="271.33" font-size="7" fill="#1e1e1e" text-anchor="end">May</text>
<text x="64.51" y="283.50" font-size="6.7" font-weight="bold" fill="#1f9a4e" text-anchor="middle">ST</text>
<text x="94.43" y="283.50" font-size="6.7" font-weight="bold" fill="#1f9a4e" text-anchor="middle">JD</text>
<text x="124.34" y="283.50" font-size="6.7" font-weight="bold" fill="#1f9a4e" text-anchor="middle">BM</text>
<text x="154.25" y="283.50" font-size="6.7" font-weight="bold" fill="#1f9a4e" text-anchor="middle">SF</text>
<text x="184.16" y="283.50" font-size="6.7" font-weight="bold" fill="#1f9a4e" text-anchor="middle">KS</text>
<text x="214.08" y="283.50" font-size="6.7" font-weight="bold" fill="#1f9a4e" text-anchor="middle">HZ</text>
<text x="243.99" y="283.50" font-size="6.7" font-weight="bold" fill="#d52fc4" text-anchor="middle">BS</text>
<text x="273.90" y="283.50" font-size="6.7" font-weight="bold" fill="#d52fc4" text-anchor="middle">KM</text>
<text x="303.81" y="283.50" font-size="6.7" font-weight="bold" fill="#d52fc4" text-anchor="middle">MK</text>
<text x="333.73" y="283.50" font-size="6.7" font-weight="bold" fill="#d52fc4" text-anchor="middle">HB</text>
<text x="363.64" y="283.50" font-size="6.7" font-weight="bold" fill="#d52fc4" text-anchor="middle">KN</text>
<text x="393.55" y="283.50" font-size="6.7" font-weight="bold" fill="#4b3fe2" text-anchor="middle">FS</text>
<text x="423.46" y="283.50" font-size="6.7" font-weight="bold" fill="#4b3fe2" text-anchor="middle">TN</text>
<text x="453.38" y="283.50" font-size="6.7" font-weight="bold" fill="#4b3fe2" text-anchor="middle">TZ</text>
<text x="483.29" y="283.50" font-size="6.7" font-weight="bold" fill="#ec2f2f" text-anchor="middle">KT</text>
<text x="273.90" y="224.80" font-size="7.5" font-weight="bold" fill="#000" text-anchor="middle">Monthly temperature</text>
<text x="40.7" y="234.50" font-size="8.6" font-weight="bold" fill="#222">(d)</text>
<text x="0" y="0" font-size="7.8" fill="#262626" text-anchor="middle" transform="translate(15.9 251.15) rotate(-90)">Months</text>
<rect x="517.6" y="227.70" width="9.0" height="45.90" fill="url(#gl)" stroke="#262626" stroke-opacity="0.5" stroke-width="0.8"/>
<text x="528.9" y="237.30" font-size="6.6" fill="#333">-0.6</text>
<text x="528.9" y="250.70" font-size="6.6" fill="#333">-0.7</text>
<text x="528.9" y="263.90" font-size="6.6" fill="#333">-0.8</text>
<text x="528.9" y="277.00" font-size="6.6" fill="#333">-0.9</text>
<text x="273.90" y="294" font-size="7.6" fill="#222" text-anchor="middle">Provinces</text>
</g></svg></body></html>
